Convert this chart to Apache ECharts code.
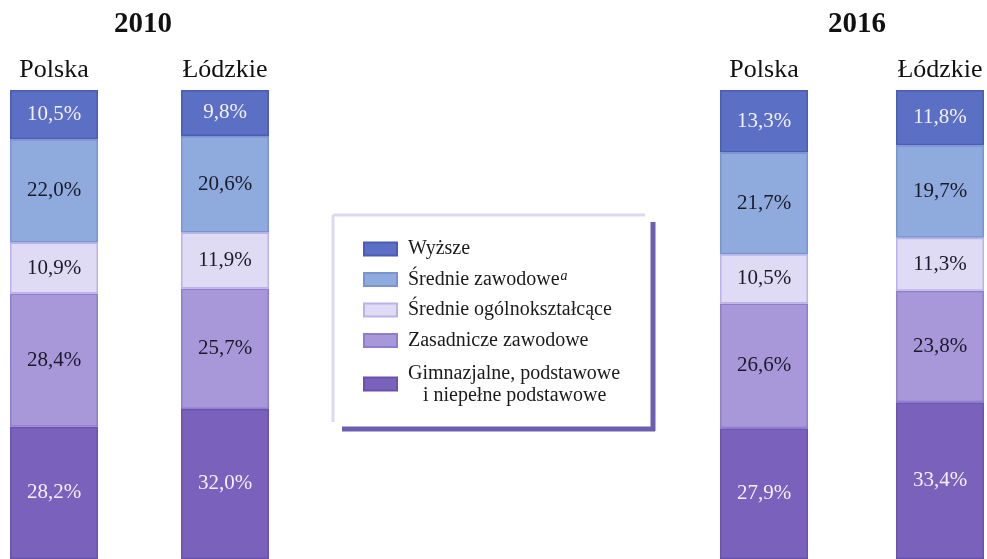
<!DOCTYPE html>
<html>
<head>
<meta charset="utf-8">
<script src="https://cdn.jsdelivr.net/npm/echarts@6/dist/echarts.min.js"></script>
<style>
html,body{margin:0;padding:0;background:#fff;}
#chart{width:987px;height:559px;}
</style>
</head>
<body>
<div id="chart"></div>
<script>
// Bars in order: 2010 Polska, 2010 Łódzkie, 2016 Polska, 2016 Łódzkie
const years = ['2010', '2016'];
const regions = ['Polska', 'Łódzkie', 'Polska', 'Łódzkie'];
const levelNames = ['Wyższe', 'Średnie zawodowe', 'Średnie ogólnokształcące', 'Zasadnicze zawodowe', 'Gimnazjalne, podstawowe i niepełne podstawowe'];
const wyzsze      = [10.5, 9.8, 13.3, 11.8];
const srednieZaw  = [22.0, 20.6, 21.7, 19.7];
const srednieOgol = [10.9, 11.9, 10.5, 11.3];
const zasadnicze  = [28.4, 25.7, 26.6, 23.8];
const gimnazjalne = [28.2, 32.0, 27.9, 33.4];

const FONT = '"Liberation Serif", "DejaVu Serif", serif';
const levels = [
  {name: levelNames[4], data: gimnazjalne, color: '#7a62bc', border: '#6a52b0', label: '#f2f0fb'},
  {name: levelNames[3], data: zasadnicze,  color: '#a898da', border: '#8e7ccd', label: '#1a1a28'},
  {name: levelNames[2], data: srednieOgol, color: '#dfdbf5', border: '#bdb2e8', label: '#1a1a28'},
  {name: levelNames[1], data: srednieZaw,  color: '#8faadc', border: '#7a93d2', label: '#1a1a28'},
  {name: levelNames[0], data: wyzsze,      color: '#5b6fc4', border: '#4a5cb6', label: '#f2f0fb'}
];
const centers = [54, 225, 764, 940];
const barW = 88;

const grids = [], xAxes = [], yAxes = [], series = [];
centers.forEach((c, i) => {
  grids.push({left: c - barW / 2, width: barW, top: 90, height: 470});
  xAxes.push({
    gridIndex: i, type: 'category', position: 'top', data: [regions[i]],
    axisLine: {show: false}, axisTick: {show: false}, splitLine: {show: false},
    axisLabel: {fontFamily: FONT, fontSize: 26, color: '#111', margin: 7}
  });
  yAxes.push({gridIndex: i, type: 'value', min: 0, max: 100, show: false});
  levels.forEach(l => {
    series.push({
      type: 'bar', name: l.name, xAxisIndex: i, yAxisIndex: i, stack: 's' + i,
      barWidth: '100%', data: [l.data[i]],
      itemStyle: {color: l.color, borderColor: l.border, borderWidth: 1.5},
      label: {
        show: true, position: 'inside', fontFamily: FONT, fontSize: 21, color: l.label,
        formatter: p => p.value.toFixed(1).replace('.', ',') + '%'
      },
      emphasis: {disabled: true}
    });
  });
});

const chart = echarts.init(document.getElementById('chart'), null, {renderer: 'canvas'});
chart.setOption({
  backgroundColor: '#ffffff',
  animation: false,
  title: [
    {text: years[0], left: 138, top: 5, textAlign: 'center', textStyle: {fontFamily: FONT, fontSize: 29, fontWeight: 'bold', color: '#111'}},
    {text: years[1], left: 852, top: 5, textAlign: 'center', textStyle: {fontFamily: FONT, fontSize: 29, fontWeight: 'bold', color: '#111'}}
  ],
  legend: {
    orient: 'vertical', left: 358, top: 234,
    data: levelNames.slice(0, 4).concat([{name: levelNames[4], textStyle: {padding: [2, 0, 0, 6], lineHeight: 22}}]),
    icon: 'rect', itemWidth: 33, itemHeight: 13, itemGap: 10.5,
    selectedMode: false,
    formatter: n => {
      if (n === levelNames[1]) return n + '{sup|a}';
      if (n === levelNames[4]) return 'Gimnazjalne, podstawowe\n   i niepełne podstawowe';
      return n;
    },
    textStyle: {
      fontFamily: FONT, fontSize: 20, color: '#1a1a1a', lineHeight: 20, padding: [0, 0, 0, 6],
      rich: {sup: {fontFamily: FONT, fontSize: 14, fontStyle: 'italic', verticalAlign: 'top', padding: [0, 0, 8, 1], color: '#1a1a1a'}}
    }
  },
  graphic: [
    {type: 'line', shape: {x1: 333, y1: 215, x2: 645, y2: 215}, style: {stroke: '#dcd8f2', lineWidth: 3}},
    {type: 'line', shape: {x1: 333, y1: 215, x2: 333, y2: 422}, style: {stroke: '#dcd8f2', lineWidth: 3}},
    {type: 'line', shape: {x1: 653, y1: 222, x2: 653, y2: 431}, style: {stroke: '#6c5fb2', lineWidth: 5}},
    {type: 'line', shape: {x1: 342, y1: 429, x2: 655, y2: 429}, style: {stroke: '#6c5fb2', lineWidth: 5}}
  ],
  grid: grids,
  xAxis: xAxes,
  yAxis: yAxes,
  series: series
});
</script>
</body>
</html>
